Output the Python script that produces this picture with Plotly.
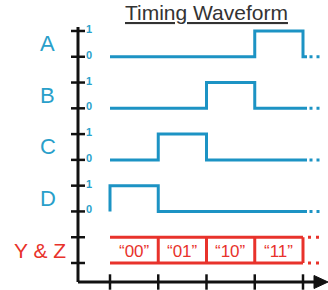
import plotly.graph_objects as go

# ---------------- data ----------------
time_ticks = [0, 1, 2, 3, 4]
signal_names = ["A", "B", "C", "D"]
signal_A = [0, 0, 0, 1]          # logic level in each clock interval
signal_B = [0, 0, 1, 0]
signal_C = [0, 1, 0, 0]
signal_D = [1, 0, 0, 0]
bus_name = "Y & Z"
bus_values = ["\u201c00\u201d", "\u201c01\u201d", "\u201c10\u201d", "\u201c11\u201d"]
level_labels = ["0", "1"]
title_text = "Timing Waveform"

# ---------------- style / layout ----------------
W, H = 328, 290
CYAN = "#1C93C4"
CYAN_TXT = "#2A9FCA"
RED = "#E8322B"
BLACK = "#111111"
row_base = [8, 6, 4, 2]   # vertical offset of each signal row
bus_base = 0

# axis scale (pixels per unit) and origin in pixels
sx, x0px = 48.25, 110.0
sy, y0px = 25.78, 263.0
xr = [-x0px / sx, (W - x0px) / sx]
yr = [(y0px - H) / sy, y0px / sy]
AX_T = (78 - x0px) / sx        # position of vertical axis
AX_Y = (y0px - 282) / sy       # position of horizontal axis
end_t = time_ticks[-1]
tail_t = end_t + 4.0 / sx
dot_t0 = end_t + 6.5 / sx
dot_t1 = end_t + 17.0 / sx

fig = go.Figure()

signals = [signal_A, signal_B, signal_C, signal_D]
for name, vals, base in zip(signal_names, signals, row_base):
    xs = [time_ticks[0]] + time_ticks[:-1] + [end_t, end_t, tail_t]
    ys = [0] + vals + [vals[-1], 0, 0]
    fig.add_trace(go.Scatter(x=xs, y=[base + v for v in ys], mode="lines",
                             line=dict(color=CYAN, width=3, shape="hv"),
                             hoverinfo="skip", showlegend=False))
    fig.add_trace(go.Scatter(x=[dot_t0, dot_t1], y=[base, base], mode="lines",
                             line=dict(color=CYAN, width=3, dash="3px,4px"),
                             hoverinfo="skip", showlegend=False))
    fig.add_annotation(x=(47.5 - x0px) / sx, y=base + 0.5, text=name, showarrow=False,
                       font=dict(family="Liberation Sans, Arial", size=22, color=CYAN_TXT))
    for lv, lab in enumerate(level_labels):
        fig.add_annotation(x=(84 - x0px) / sx, y=base + lv, text="<b>" + lab + "</b>",
                           showarrow=False, xanchor="left", yshift=2,
                           font=dict(family="Liberation Sans, Arial", size=11, color=CYAN_TXT))

# bus (Y & Z)
bx, by = [], []
for lv in (0, 1):
    bx += [time_ticks[0], end_t, None]
    by += [bus_base + lv, bus_base + lv, None]
for t in time_ticks[1:]:
    bx += [t, t, None]
    by += [bus_base, bus_base + 1, None]
fig.add_trace(go.Scatter(x=bx, y=by, mode="lines", line=dict(color=RED, width=3),
                         hoverinfo="skip", showlegend=False))
for lv in (0, 1):
    fig.add_trace(go.Scatter(x=[end_t + 5 / sx, dot_t1], y=[bus_base + lv] * 2, mode="lines",
                             line=dict(color=RED, width=3, dash="3px,5px"),
                             hoverinfo="skip", showlegend=False))
for i, v in enumerate(bus_values):
    fig.add_annotation(x=time_ticks[i] + 0.5, y=bus_base + 0.5, text=v, showarrow=False,
                       yshift=-1,
                       font=dict(family="Liberation Sans, Arial", size=17, color=RED))
fig.add_annotation(x=(40 - x0px) / sx, y=bus_base + 0.5, text=bus_name, showarrow=False,
                   font=dict(family="Liberation Sans, Arial", size=21, color=RED))

# axes
fig.add_trace(go.Scatter(x=[AX_T, AX_T], y=[AX_Y, (y0px - 27) / sy], mode="lines",
                         line=dict(color=BLACK, width=3), hoverinfo="skip", showlegend=False))
fig.add_trace(go.Scatter(x=[AX_T, (316 - x0px) / sx], y=[AX_Y, AX_Y], mode="lines",
                         line=dict(color=BLACK, width=3), hoverinfo="skip", showlegend=False))
fig.add_shape(type="path", xref="x", yref="y",
              path="M {a},{b} L {c},{d} L {a},{e} Z".format(
                  a=(314 - x0px) / sx, b=AX_Y + 6.5 / sy, c=(328 - x0px) / sx, d=AX_Y,
                  e=AX_Y - 6.5 / sy),
              fillcolor=BLACK, line=dict(color=BLACK, width=1))
ylev = [b + lv for b in row_base + [bus_base] for lv in (0, 1)]
fig.add_trace(go.Scatter(x=[AX_T] * len(ylev), y=ylev, mode="markers",
                         marker=dict(symbol="line-ew", size=10,
                                     line=dict(color=BLACK, width=2.5)),
                         hoverinfo="skip", showlegend=False))
fig.add_trace(go.Scatter(x=time_ticks, y=[AX_Y] * len(time_ticks), mode="markers",
                         marker=dict(symbol="line-ns", size=11,
                                     line=dict(color=BLACK, width=2.5)),
                         hoverinfo="skip", showlegend=False))

fig.add_annotation(xref="paper", yref="paper", x=206 / W, y=1 - 13 / H, text=title_text,
                   showarrow=False, xanchor="center", yanchor="middle",
                   font=dict(family="Liberation Sans, Arial", size=21, color="#333333",
                             lineposition="under"))

fig.update_layout(width=W, height=H, margin=dict(l=0, r=0, t=0, b=0),
                  paper_bgcolor="white", plot_bgcolor="white",
                  xaxis=dict(range=xr, visible=False, fixedrange=True),
                  yaxis=dict(range=yr, visible=False, fixedrange=True))

fig.write_html("out.html", config={"displayModeBar": False},
               post_script="document.body.style.margin='0';document.body.style.overflow='hidden';")
